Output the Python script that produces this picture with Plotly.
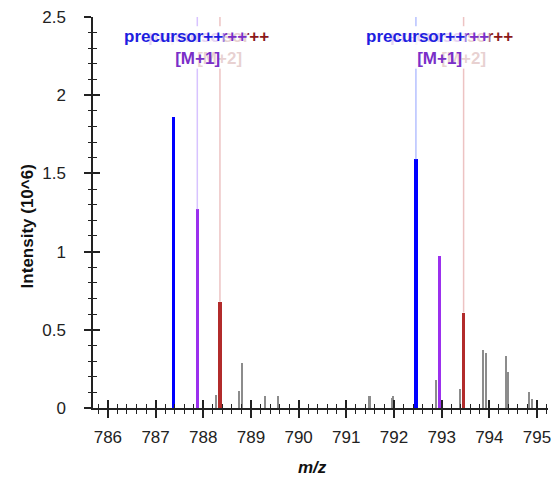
import plotly.graph_objects as go

# ---- data ----
prec_mz = [787.375, 792.46]
prec_int = [1.86, 1.59]
m1_mz = [787.875, 792.96]
m1_int = [1.27, 0.97]
m2_mz = [788.35, 793.46]
m2_int = [0.68, 0.61]

other_mz = [788.28, 788.75, 788.81, 789.30, 789.58, 791.49, 791.96, 791.99,
            792.88, 793.39, 793.88, 793.94, 794.35, 794.40, 794.83, 794.90]
other_int = [0.08, 0.11, 0.29, 0.077, 0.077, 0.077, 0.067, 0.077,
             0.18, 0.12, 0.37, 0.35, 0.33, 0.23, 0.10, 0.06]

# faint guide lines (peak m/z, peak intensity, colour key)
guide_mz = [m1_mz[0], m2_mz[0], prec_mz[1], m2_mz[1]]
guide_int = [m1_int[0], m2_int[0], prec_int[1], m2_int[1]]
guide_kind = ["m1", "m2", "prec", "m2"]

x_ticks = list(range(786, 796))
y_ticks = [0, 0.5, 1, 1.5, 2, 2.5]
y_tick_text = ["0", "0.5", "1", "1.5", "2", "2.5"]

x_range = [785.6875, 795.23]
y_range = [0, 2.5]

BLUE = "#0000ff"
PURPLE = "#9b30ee"
RED = "#b22b2b"
GUIDE = {"prec": "rgba(150,165,255,0.7)", "m1": "rgba(200,170,255,0.7)", "m2": "rgba(230,170,170,0.7)"}
FONT = "Liberation Sans, Arial, sans-serif"

fig = go.Figure()

# guide lines from peak top to the label area
for mz, it, k in zip(guide_mz, guide_int, guide_kind):
    fig.add_trace(go.Scatter(x=[mz, mz], y=[it, y_range[1]], mode="lines",
                             line=dict(color=GUIDE[k], width=1.5),
                             hoverinfo="skip", showlegend=False))

fig.add_trace(go.Bar(x=other_mz, y=other_int, width=[0.036] * len(other_mz),
                     marker=dict(color="#8c8c8c", line=dict(width=0)), showlegend=False))
fig.add_trace(go.Bar(x=prec_mz, y=prec_int, width=[0.07] * len(prec_mz),
                     marker=dict(color=BLUE, line=dict(width=0)), showlegend=False))
fig.add_trace(go.Bar(x=m1_mz, y=m1_int, width=[0.07] * len(m1_mz),
                     marker=dict(color=PURPLE, line=dict(width=0)), showlegend=False))
fig.add_trace(go.Bar(x=m2_mz, y=m2_int, width=[0.07] * len(m2_mz),
                     marker=dict(color=RED, line=dict(width=0)), showlegend=False))

# invisible trace on the overlay axes (gives crossing tick marks)
fig.add_trace(go.Scatter(x=[x_range[0]], y=[0], xaxis="x2", yaxis="y2", mode="markers",
                         marker=dict(opacity=0), hoverinfo="skip", showlegend=False))

# labels: red first, purple, blue on top
label_y = 2.44
bg = "rgba(255,255,255,0.8)"
for i in range(len(prec_mz)):
    fig.add_annotation(x=m2_mz[i], y=label_y, xref="x", yref="y", yanchor="top",
                       text="precursor++<br>[M+2]", showarrow=False, bgcolor=bg, borderpad=0,
                       font=dict(family=FONT, size=17, color="#8b1a1a", weight="bold"))
    fig.add_annotation(x=m1_mz[i], y=label_y, xref="x", yref="y", yanchor="top",
                       text="precursor++<br>[M+1]", showarrow=False, bgcolor=bg, borderpad=0,
                       font=dict(family=FONT, size=17, color="#7a2fc8", weight="bold"))
    fig.add_annotation(x=prec_mz[i], y=label_y, xref="x", yref="y", yanchor="top",
                       text="precursor++", showarrow=False, bgcolor=bg, borderpad=0,
                       font=dict(family=FONT, size=17, color="#1e1ee0", weight="bold"))

# axis titles
fig.add_annotation(x=-0.142, y=0.4655, xref="paper", yref="paper", text="Intensity (10^6)",
                   textangle=-90, showarrow=False, xanchor="center", yanchor="middle",
                   font=dict(family=FONT, size=17, color="#111", weight="bold"))
fig.add_annotation(x=0.4825, y=-0.151, xref="paper", yref="paper", text="<i>m/z</i>",
                   showarrow=False, xanchor="center", yanchor="middle",
                   font=dict(family=FONT, size=17, color="#111", weight="bold"))

axis_common = dict(showgrid=False, zeroline=False)
fig.update_layout(
    width=557, height=477,
    margin=dict(l=93, r=6, t=17, b=69),
    paper_bgcolor="white", plot_bgcolor="white",
    barmode="overlay", bargap=0,
    font=dict(family=FONT, size=17, color="#222"),
    xaxis=dict(range=x_range, tickvals=x_ticks, ticktext=[str(v) for v in x_ticks],
               showline=True, linecolor="#222", linewidth=1.5,
               ticks="outside", ticklen=8, tickwidth=1.5, tickcolor="#222",
               minor=dict(dtick=0.2, tick0=786, ticks="outside", ticklen=4, tickwidth=1.2, tickcolor="#222"),
               ticklabelstandoff=5, tickfont=dict(size=17, color="#222"), **axis_common),
    yaxis=dict(range=y_range, tickvals=y_ticks, ticktext=y_tick_text,
               showline=True, linecolor="#222", linewidth=1.5,
               ticks="outside", ticklen=7, tickwidth=1.5, tickcolor="#222",
               minor=dict(dtick=0.1, tick0=0, ticks="outside", ticklen=3.5, tickwidth=1.2, tickcolor="#222"),
               ticklabelstandoff=15, tickfont=dict(size=17, color="#222"), **axis_common),
    xaxis2=dict(overlaying="x", matches="x", anchor="y2", side="bottom", range=x_range,
                tickvals=x_ticks, showticklabels=False, showline=False,
                ticks="inside", ticklen=8, tickwidth=1.5, tickcolor="#222",
                minor=dict(dtick=0.2, tick0=786, ticks="inside", ticklen=4, tickwidth=1.2, tickcolor="#222"),
                **axis_common),
    yaxis2=dict(overlaying="y", matches="y", anchor="x2", side="left", range=y_range,
                tickvals=y_ticks, showticklabels=False, showline=False,
                ticks="inside", ticklen=7, tickwidth=1.5, tickcolor="#222",
                minor=dict(dtick=0.1, tick0=0, ticks="inside", ticklen=3.5, tickwidth=1.2, tickcolor="#222"),
                **axis_common),
)

fig.write_html("out.html")
